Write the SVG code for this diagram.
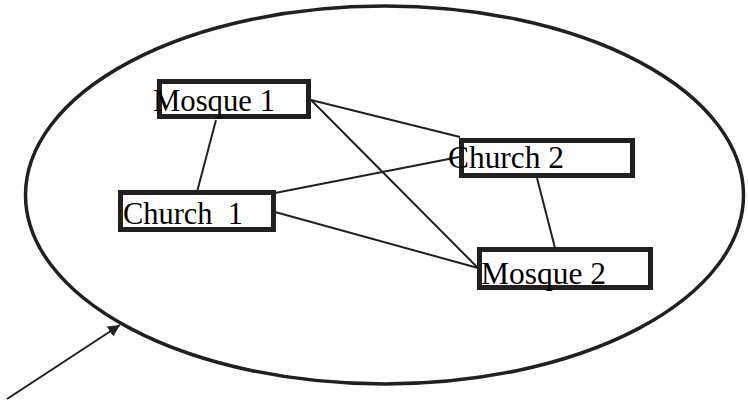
<svg xmlns="http://www.w3.org/2000/svg" width="748" height="403" viewBox="0 0 748 403">
  <style>
    .box { fill: #ffffff; stroke: #231f20; stroke-width: 5; }
    .lbl { font-family: "Liberation Serif", "Times New Roman", serif; font-size: 32px; fill: #000000; white-space: pre; }
    .link { stroke: #231f20; stroke-width: 2; fill: none; }
  </style>
  <defs>
    <marker id="arrowhead" viewBox="0 0 10 10" refX="10" refY="5" markerWidth="6" markerHeight="6" orient="auto" markerUnits="strokeWidth">
      <path d="M0,0 L10,5 L0,10 z" fill="#231f20"/>
    </marker>
  </defs>

  <!-- enclosing region -->
  <ellipse id="region" cx="384.5" cy="195" rx="359" ry="189" fill="none" stroke="#231f20" stroke-width="3.5"/>

  <!-- pointer into the region -->
  <line id="pointer" x1="7" y1="399" x2="120" y2="325" stroke="#231f20" stroke-width="2" marker-end="url(#arrowhead)"/>

  <!-- connectors -->
  <g id="connectors">
    <line class="link" x1="216" y1="120" x2="197" y2="192"/>
    <line class="link" x1="311" y1="100" x2="460" y2="137"/>
    <line class="link" x1="311" y1="100" x2="478" y2="268"/>
    <line class="link" x1="275" y1="193" x2="459" y2="157"/>
    <line class="link" x1="275" y1="212" x2="478" y2="268"/>
    <line class="link" x1="537" y1="178" x2="555" y2="248"/>
  </g>

  <g id="mosque1">
    <rect class="box" x="159.5" y="81.5" width="149" height="35"/>
    <text class="lbl" x="153" y="111" textLength="122" lengthAdjust="spacingAndGlyphs">Mosque 1</text>
  </g>

  <g id="church2">
    <rect class="box" x="461.5" y="140.5" width="171" height="35"/>
    <text class="lbl" x="448" y="168" textLength="116" lengthAdjust="spacingAndGlyphs">Church 2</text>
  </g>

  <g id="church1">
    <rect class="box" x="120.5" y="192.5" width="153" height="37"/>
    <text class="lbl" x="123" y="224" textLength="120" lengthAdjust="spacingAndGlyphs">Church  1</text>
  </g>

  <g id="mosque2">
    <rect class="box" x="479.5" y="249.5" width="171" height="38"/>
    <text class="lbl" x="481" y="284" textLength="125" lengthAdjust="spacingAndGlyphs">Mosque 2</text>
  </g>
</svg>
